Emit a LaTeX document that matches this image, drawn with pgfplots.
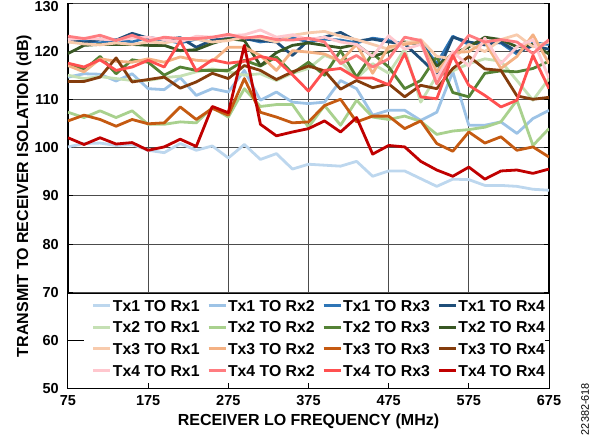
\documentclass[border=0pt]{standalone}
\usepackage{fontspec}
\setmainfont{Liberation Sans}
\usepackage{pgfplots}
\usepackage{pgfplotstable}
\pgfplotsset{compat=1.18}

\definecolor{c11}{HTML}{BDD7EE}
\definecolor{c12}{HTML}{9DC3E6}
\definecolor{c13}{HTML}{2E75B6}
\definecolor{c14}{HTML}{1F4E79}
\definecolor{c21}{HTML}{C5E0B4}
\definecolor{c22}{HTML}{A9D18E}
\definecolor{c23}{HTML}{548235}
\definecolor{c24}{HTML}{385723}
\definecolor{c31}{HTML}{F8CBAD}
\definecolor{c32}{HTML}{F4B183}
\definecolor{c33}{HTML}{C55A11}
\definecolor{c34}{HTML}{843C0C}
\definecolor{c41}{HTML}{FFC7CE}
\definecolor{c42}{HTML}{FF7C80}
\definecolor{c43}{HTML}{FF5050}
\definecolor{c44}{HTML}{C00000}

% isolation (dB) vs receiver LO frequency (MHz), one column per Tx/Rx pair
\pgfplotstableread{
f   r11   r12   r13   r14   r21   r22   r23   r24   r31   r32   r33   r34   r41   r42   r43   r44
75  100.2 114.7 122.0 122.7 115.1 107.4 117.5 119.6 122.0 117.1 105.6 113.8 122.5 123.2 117.6 102.1
95  100.9 115.4 122.3 121.8 114.4 106.3 116.2 121.3 121.6 115.8 106.8 113.8 122.8 122.7 116.8 100.7
115 101.0 115.3 121.8 122.6 114.8 107.7 119.0 121.5 121.4 118.5 105.9 114.7 122.6 123.4 118.3 102.1
135 100.5 113.9 122.5 122.4 114.4 106.3 115.4 121.5 121.8 118.0 104.5 118.7 122.4 122.3 116.1 100.8
155 100.7 115.4 122.0 123.8 114.0 107.7 118.3 121.5 121.5 117.8 105.9 113.7 122.8 123.4 116.8 101.1
175 99.5  112.3 123.0 122.8 114.0 104.9 117.8 121.3 122.0 118.5 105.0 114.2 123.0 122.2 118.2 99.5
195 99.0  112.1 122.4 122.5 114.6 104.9 115.1 121.3 121.8 117.8 105.2 114.7 122.5 123.0 116.8 100.2
215 100.9 114.6 121.8 122.9 114.9 105.4 116.8 120.2 122.4 118.9 108.5 112.4 122.0 122.7 122.2 101.8
235 99.5  110.9 122.6 120.9 115.8 105.2 116.1 120.4 122.6 118.2 105.9 113.7 123.2 122.7 116.0 100.3
255 100.4 112.3 122.0 122.4 116.4 108.4 116.1 121.7 122.0 118.0 108.2 115.5 123.0 123.0 118.3 108.6
275 97.9  111.6 122.6 122.8 115.8 106.4 116.1 122.7 122.3 120.9 106.8 114.4 123.3 123.6 117.6 107.3
295 100.7 116.1 122.8 122.6 115.1 112.3 118.2 122.3 123.0 120.9 114.4 117.1 123.5 122.8 118.0 121.3
315 97.6  109.9 122.0 122.3 115.4 108.6 117.0 117.1 122.8 119.2 107.4 116.1 124.5 123.2 119.0 104.9
335 98.8  111.6 122.5 122.0 114.0 109.0 118.9 119.8 122.0 116.1 106.4 114.2 123.0 122.5 118.3 102.5
355 95.6  109.5 122.9 119.2 115.5 109.0 115.5 121.3 123.4 120.2 105.2 115.8 123.5 122.4 115.2 103.3
375 96.6  109.2 122.0 122.4 116.5 104.3 117.8 121.8 123.9 119.9 105.4 117.0 122.5 122.8 111.8 104.0
395 96.4  109.5 122.6 123.0 119.2 108.8 115.1 121.3 124.2 119.5 108.8 116.0 123.0 122.0 116.1 105.6
415 96.2  114.0 122.4 124.0 118.0 104.7 120.2 120.8 123.2 118.0 110.1 112.2 122.0 117.5 116.5 103.3
435 97.2  112.3 121.8 122.2 114.5 109.9 114.7 121.5 122.5 121.5 105.4 114.0 121.5 119.2 114.5 106.3
455 94.1  106.8 122.8 122.6 117.5 106.4 119.6 119.0 121.5 115.5 106.6 112.5 119.0 116.8 114.5 98.7
475 95.2  107.8 122.3 122.0 115.5 105.9 116.8 120.0 120.5 121.0 106.6 113.3 123.3 118.5 113.1 100.5
495 95.2  107.8 121.5 121.6 120.5 106.6 112.3 122.0 121.8 121.5 104.0 110.6 120.5 123.0 119.6 100.2
515 93.6  105.7 122.0 118.5 109.5 105.5 114.0 121.6 122.5 122.0 105.6 113.0 121.5 122.3 110.6 97.2
535 92.0  107.4 117.5 115.3 115.0 102.8 119.0 117.0 119.0 115.8 100.9 112.3 114.5 113.3 110.2 95.4
555 93.5  115.8 123.2 123.0 116.0 103.5 111.5 119.5 118.5 119.8 99.3  116.5 120.0 119.2 119.2 94.1
575 93.4  104.7 121.5 122.0 117.5 103.8 110.6 121.0 121.5 120.0 103.3 119.0 117.0 123.4 113.0 96.0
595 92.2  104.7 122.0 121.4 118.5 104.3 115.5 123.0 120.0 122.0 101.0 116.4 122.8 122.0 110.9 93.5
615 92.2  105.4 121.8 122.0 118.0 105.4 116.0 122.5 122.5 116.5 102.3 116.1 117.5 122.5 108.5 95.2
635 92.0  103.0 119.5 120.0 114.0 109.9 115.8 121.0 123.5 119.0 99.5  110.8 121.0 122.0 109.9 95.4
655 91.4  106.1 121.8 121.2 109.9 100.5 116.5 121.5 121.0 123.5 100.2 110.1 122.5 119.6 119.2 94.7
675 91.2  107.8 121.5 120.5 114.4 104.0 118.0 119.5 122.0 117.5 98.1  110.5 114.5 122.5 112.3 95.6
}\isodata

\newcommand{\tickfont}{\fontsize{14.5}{15}\selectfont\bfseries}
\newcommand{\labfont}{\fontsize{16}{18}\selectfont\bfseries}

\begin{document}
\begin{tikzpicture}
\useasboundingbox (-68pt,-55.5pt) rectangle (529pt,388.5pt);
\begin{axis}[
    at={(0,0)}, anchor=south west,
    scale only axis,
    width=481pt, height=385pt,
    xmin=75, xmax=675, ymin=50, ymax=130,
    xtick={75,175,...,675},
    ytick={50,60,...,120},
    extra y ticks={130},
    extra y tick style={yticklabel style={yshift=-3pt}},
    grid=major,
    major grid style={black!70, line width=1pt},
    axis line style={black, line width=1.2pt},
    tick align=inside,
    major tick length=5pt,
    tick style={black, line width=1pt},
    /pgf/number format/assume math mode=true,
    ticklabel style={font=\tickfont},
    yticklabel style={inner sep=0pt, xshift=-9pt},
    xticklabel style={inner sep=0pt, yshift=-7pt},
    xlabel={RECEIVER LO FREQUENCY (MHz)},
    ylabel={TRANSMIT TO RECEIVER ISOLATION (dB)},
    label style={font=\labfont},
    xlabel style={at={(axis description cs:0.5,0)}, anchor=center, yshift=-33pt},
    ylabel style={at={(axis description cs:0,0.5)}, anchor=center, yshift=44pt},
    every axis plot/.append style={line width=2.8pt, line join=round, no markers},
    legend columns=4,
    legend image code/.code={\draw[#1, line width=3pt] (0pt,0pt) -- (17pt,0pt);},
    legend style={at={(0.0493,0.2443)}, anchor=north west, draw=none, fill=none,
        inner sep=0pt, row sep=0pt, column sep=0pt,
        font=\fontsize{15.8}{16}\selectfont\bfseries,
        nodes={inner xsep=0pt, inner ysep=5.1pt, text height=11.5pt, text depth=0pt},
        /tikz/every odd column/.append style={column sep=1pt},
        /tikz/every even column/.append style={column sep=7.5pt}},
]
\addplot[c11] table[x=f, y=r11] {\isodata};
\addplot[c12] table[x=f, y=r12] {\isodata};
\addplot[c13] table[x=f, y=r13] {\isodata};
\addplot[c14] table[x=f, y=r14] {\isodata};
\addplot[c21] table[x=f, y=r21] {\isodata};
\addplot[c22] table[x=f, y=r22] {\isodata};
\addplot[c23] table[x=f, y=r23] {\isodata};
\addplot[c24] table[x=f, y=r24] {\isodata};
\addplot[c31] table[x=f, y=r31] {\isodata};
\addplot[c32] table[x=f, y=r32] {\isodata};
\addplot[c33] table[x=f, y=r33] {\isodata};
\addplot[c34] table[x=f, y=r34] {\isodata};
\addplot[c41] table[x=f, y=r41] {\isodata};
\addplot[c42] table[x=f, y=r42] {\isodata};
\addplot[c43] table[x=f, y=r43] {\isodata};
\addplot[c44] table[x=f, y=r44] {\isodata};
\legend{Tx1 TO Rx1, Tx1 TO Rx2, Tx1 TO Rx3, Tx1 TO Rx4,
        Tx2 TO Rx1, Tx2 TO Rx2, Tx2 TO Rx3, Tx2 TO Rx4,
        Tx3 TO Rx1, Tx3 TO Rx2, Tx3 TO Rx3, Tx3 TO Rx4,
        Tx4 TO Rx1, Tx4 TO Rx2, Tx4 TO Rx3, Tx4 TO Rx4}
% white legend panel over the grid, with the short ticks that show through it
\draw[fill=white, draw=black, line width=1pt] (75,50) rectangle (675,69.8);
\draw[black, line width=1pt] (175,50) -- ++(0pt,5pt) (275,50) -- ++(0pt,5pt)
    (375,50) -- ++(0pt,5pt) (475,50) -- ++(0pt,5pt) (575,50) -- ++(0pt,5pt)
    (75,60) -- ++(16pt,0pt) (675,60) -- ++(-4pt,0pt);
\end{axis}
\node[rotate=90, font=\fontsize{10.9}{11}\selectfont] at (517pt,-20.5pt) {22382-618};
\end{tikzpicture}
\end{document}
